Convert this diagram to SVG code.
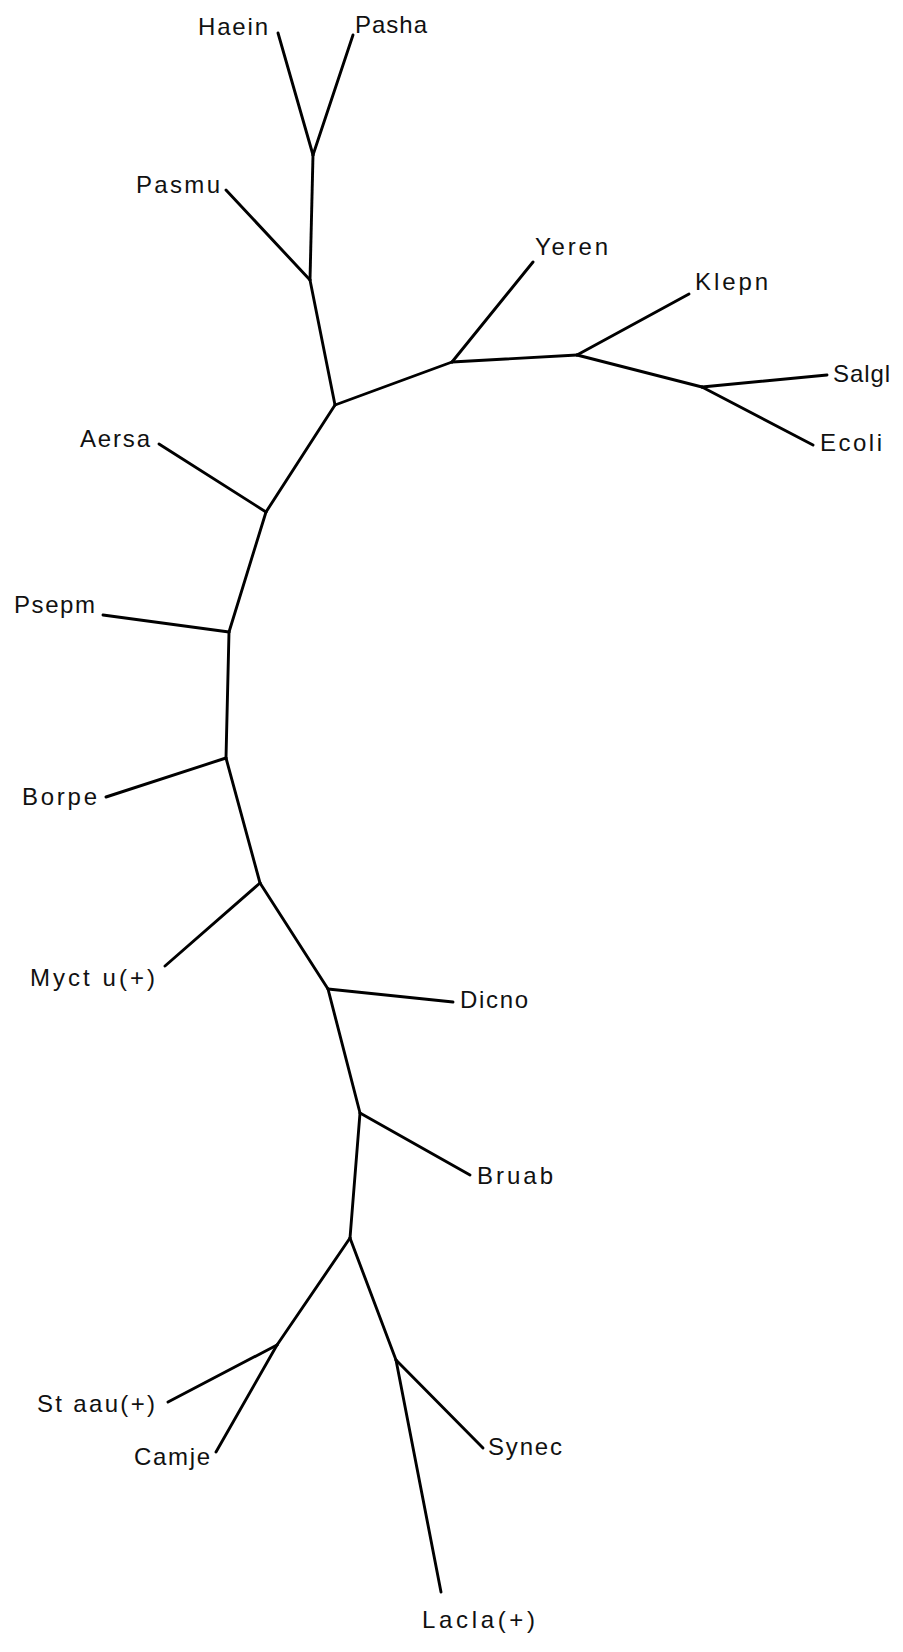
<svg xmlns="http://www.w3.org/2000/svg" width="903" height="1652" viewBox="0 0 903 1652">
<style>
.edge line{stroke:#000;stroke-width:2.9;stroke-linecap:round;fill:none}
.lbl{font-family:"Liberation Sans",Arial,sans-serif;font-size:24px;fill:#111}
</style>
<rect width="903" height="1652" fill="#fff"/>
<g id="connectors" class="edge">
<line x1="313" y1="155" x2="278" y2="33"/>
<line x1="313" y1="155" x2="353" y2="35"/>
<line x1="313" y1="155" x2="310" y2="280"/>
<line x1="310" y1="280" x2="226" y2="190"/>
<line x1="310" y1="280" x2="335" y2="405"/>
<line x1="335" y1="405" x2="452" y2="362"/>
<line x1="452" y1="362" x2="533" y2="262"/>
<line x1="452" y1="362" x2="577" y2="355"/>
<line x1="577" y1="355" x2="689" y2="294"/>
<line x1="577" y1="355" x2="702" y2="387"/>
<line x1="702" y1="387" x2="827" y2="375"/>
<line x1="702" y1="387" x2="813" y2="445"/>
<line x1="335" y1="405" x2="266" y2="512"/>
<line x1="266" y1="512" x2="159" y2="444"/>
<line x1="266" y1="512" x2="229" y2="632"/>
<line x1="229" y1="632" x2="103" y2="615"/>
<line x1="229" y1="632" x2="226" y2="758"/>
<line x1="226" y1="758" x2="106" y2="797"/>
<line x1="226" y1="758" x2="260" y2="883"/>
<line x1="260" y1="883" x2="165" y2="966"/>
<line x1="260" y1="883" x2="328" y2="989"/>
<line x1="328" y1="989" x2="453" y2="1002"/>
<line x1="328" y1="989" x2="360" y2="1113"/>
<line x1="360" y1="1113" x2="470" y2="1175"/>
<line x1="360" y1="1113" x2="350" y2="1238"/>
<line x1="350" y1="1238" x2="277" y2="1345"/>
<line x1="277" y1="1345" x2="168" y2="1402"/>
<line x1="277" y1="1345" x2="216" y2="1452"/>
<line x1="350" y1="1238" x2="396" y2="1360"/>
<line x1="396" y1="1360" x2="483" y2="1448"/>
<line x1="396" y1="1360" x2="441" y2="1592"/>
</g>
<g id="node-haein"><text class="lbl" x="198" y="35" textLength="70" lengthAdjust="spacing">Haein</text></g>
<g id="node-pasha"><text class="lbl" x="355" y="33" textLength="72" lengthAdjust="spacing">Pasha</text></g>
<g id="node-pasmu"><text class="lbl" x="136" y="193" textLength="84" lengthAdjust="spacing">Pasmu</text></g>
<g id="node-yeren"><text class="lbl" x="535" y="255" textLength="73" lengthAdjust="spacing">Yeren</text></g>
<g id="node-klepn"><text class="lbl" x="695" y="290" textLength="73" lengthAdjust="spacing">Klepn</text></g>
<g id="node-salgl"><text class="lbl" x="833" y="382" textLength="57" lengthAdjust="spacing">Salgl</text></g>
<g id="node-ecoli"><text class="lbl" x="820" y="451" textLength="62" lengthAdjust="spacing">Ecoli</text></g>
<g id="node-aersa"><text class="lbl" x="80" y="447" textLength="70" lengthAdjust="spacing">Aersa</text></g>
<g id="node-psepm"><text class="lbl" x="14" y="613" textLength="81" lengthAdjust="spacing">Psepm</text></g>
<g id="node-borpe"><text class="lbl" x="22" y="805" textLength="75" lengthAdjust="spacing">Borpe</text></g>
<g id="node-myctu"><text class="lbl" x="30" y="986" textLength="125" lengthAdjust="spacing">Myct u(+)</text></g>
<g id="node-dicno"><text class="lbl" x="460" y="1008" textLength="68" lengthAdjust="spacing">Dicno</text></g>
<g id="node-bruab"><text class="lbl" x="477" y="1184" textLength="76" lengthAdjust="spacing">Bruab</text></g>
<g id="node-staau"><text class="lbl" x="37" y="1412" textLength="118" lengthAdjust="spacing">St aau(+)</text></g>
<g id="node-camje"><text class="lbl" x="134" y="1465" textLength="76" lengthAdjust="spacing">Camje</text></g>
<g id="node-synec"><text class="lbl" x="488" y="1455" textLength="74" lengthAdjust="spacing">Synec</text></g>
<g id="node-lacla"><text class="lbl" x="422" y="1628" textLength="113" lengthAdjust="spacing">Lacla(+)</text></g>
</svg>
